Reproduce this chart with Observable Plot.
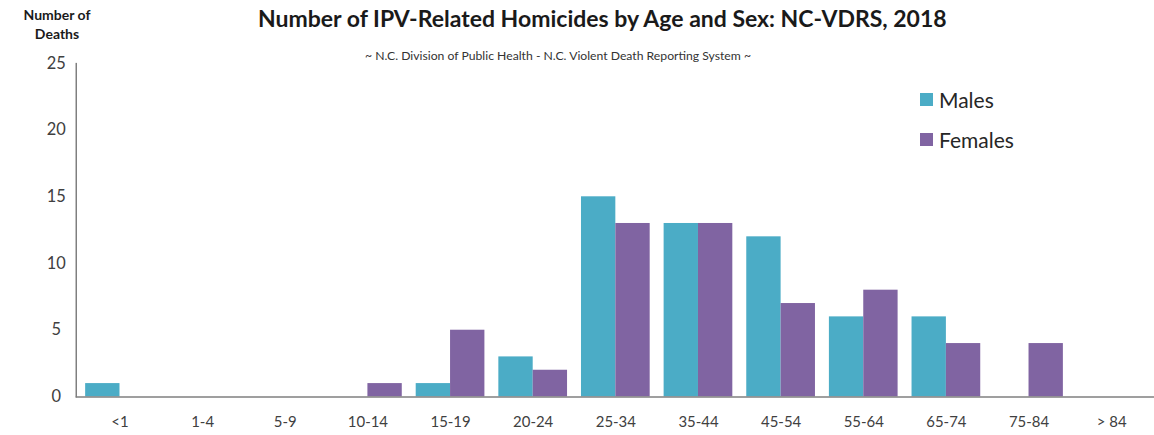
<!DOCTYPE html>
<html>
<head>
<meta charset="utf-8">
<script src="https://cdn.jsdelivr.net/npm/d3@7"></script>
<script src="https://cdn.jsdelivr.net/npm/@observablehq/plot@0.6"></script>
<style>
  body { margin: 0; background: #fff; overflow: hidden; font-family: Lato, "Open Sans", sans-serif; }
  #wrap { position: relative; width: 1154px; height: 435px; }
  #title { height: 36px; line-height: 36px; padding-left: 258px; font-weight: bold; font-size: 23px; color: #1a1a1a; white-space: nowrap; }
  #subtitle { position: absolute; left: 365px; top: 48px; font-size: 12.2px; color: #333; white-space: nowrap; }
  #ylabel { position: absolute; left: 8px; top: 5px; width: 98px; text-align: center; font-weight: bold; font-size: 14px; line-height: 19px; color: #1a1a1a; }
  #legend { position: absolute; left: 920px; top: 79px; font-size: 21px; color: #262626; }
  .item { display: flex; align-items: center; height: 40px; }
  .sw { width: 13px; height: 13px; margin-right: 6px; }
</style>
</head>
<body>
<div id="wrap">
  <div id="title">Number of IPV-Related Homicides by Age and Sex: NC-VDRS, 2018</div>
  <div id="chart"></div>
  <div id="subtitle">~ N.C. Division of Public Health - N.C. Violent Death Reporting System ~</div>
  <div id="ylabel">Number of<br>Deaths</div>
  <div id="legend"></div>
</div>
<script>
const ages = ["<1", "1-4", "5-9", "10-14", "15-19", "20-24", "25-34", "35-44", "45-54", "55-64", "65-74", "75-84", "> 84"];
const males = [1, 0, 0, 0, 1, 3, 15, 13, 12, 6, 6, 0, 0];
const females = [0, 0, 0, 1, 5, 2, 13, 13, 7, 8, 4, 4, 0];
const series = ["Males", "Females"];
const colors = ["#4BACC6", "#8064A2"];
const yTicks = [0, 5, 10, 15, 20, 25];

const maleData = ages.map((a, i) => ({age: a, sex: "Males", value: males[i]}));
const femaleData = ages.map((a, i) => ({age: a, sex: "Females", value: females[i]}));

const chart = Plot.plot({
  width: 1159,
  height: 399,
  marginLeft: 76,
  marginRight: 0,
  marginTop: 27,
  marginBottom: 37,
  style: {fontFamily: "Lato, 'Open Sans', sans-serif", fontSize: "15px", color: "#404040", background: "#fff"},
  x: {domain: ages, paddingInner: 0.16, paddingOuter: 0.08, label: null, tickSize: 0, tickPadding: 20},
  y: {domain: [0, 25], ticks: yTicks, label: null, tickSize: 0, tickPadding: 20, line: true},
  color: {domain: series, range: colors},
  marks: [
    Plot.barY(maleData, {x: "age", y: "value", fill: "sex", insetRight: 35, insetLeft: 0.5}),
    Plot.barY(femaleData, {x: "age", y: "value", fill: "sex", insetLeft: 35, insetRight: 0.5}),
    Plot.ruleY([0], {stroke: "#7f7f7f", strokeWidth: 1.5})
  ]
});
chart.querySelectorAll("g[aria-label='y-axis tick label']").forEach(g => {
  g.setAttribute("text-anchor", "middle");
  g.style.fontSize = "16.5px";
  g.querySelectorAll("text").forEach(t => t.style.fontSize = "16.5px");
});
chart.querySelectorAll("[aria-label='y-axis line']").forEach(e => {
  e.setAttribute("stroke", "#7f7f7f");
});
document.getElementById("chart").appendChild(chart);

const legend = document.getElementById("legend");
series.forEach((s, i) => {
  const item = document.createElement("div");
  item.className = "item";
  const sw = document.createElement("div");
  sw.className = "sw";
  sw.style.background = colors[i];
  const t = document.createElement("span");
  t.textContent = s;
  item.appendChild(sw);
  item.appendChild(t);
  legend.appendChild(item);
});
</script>
</body>
</html>
